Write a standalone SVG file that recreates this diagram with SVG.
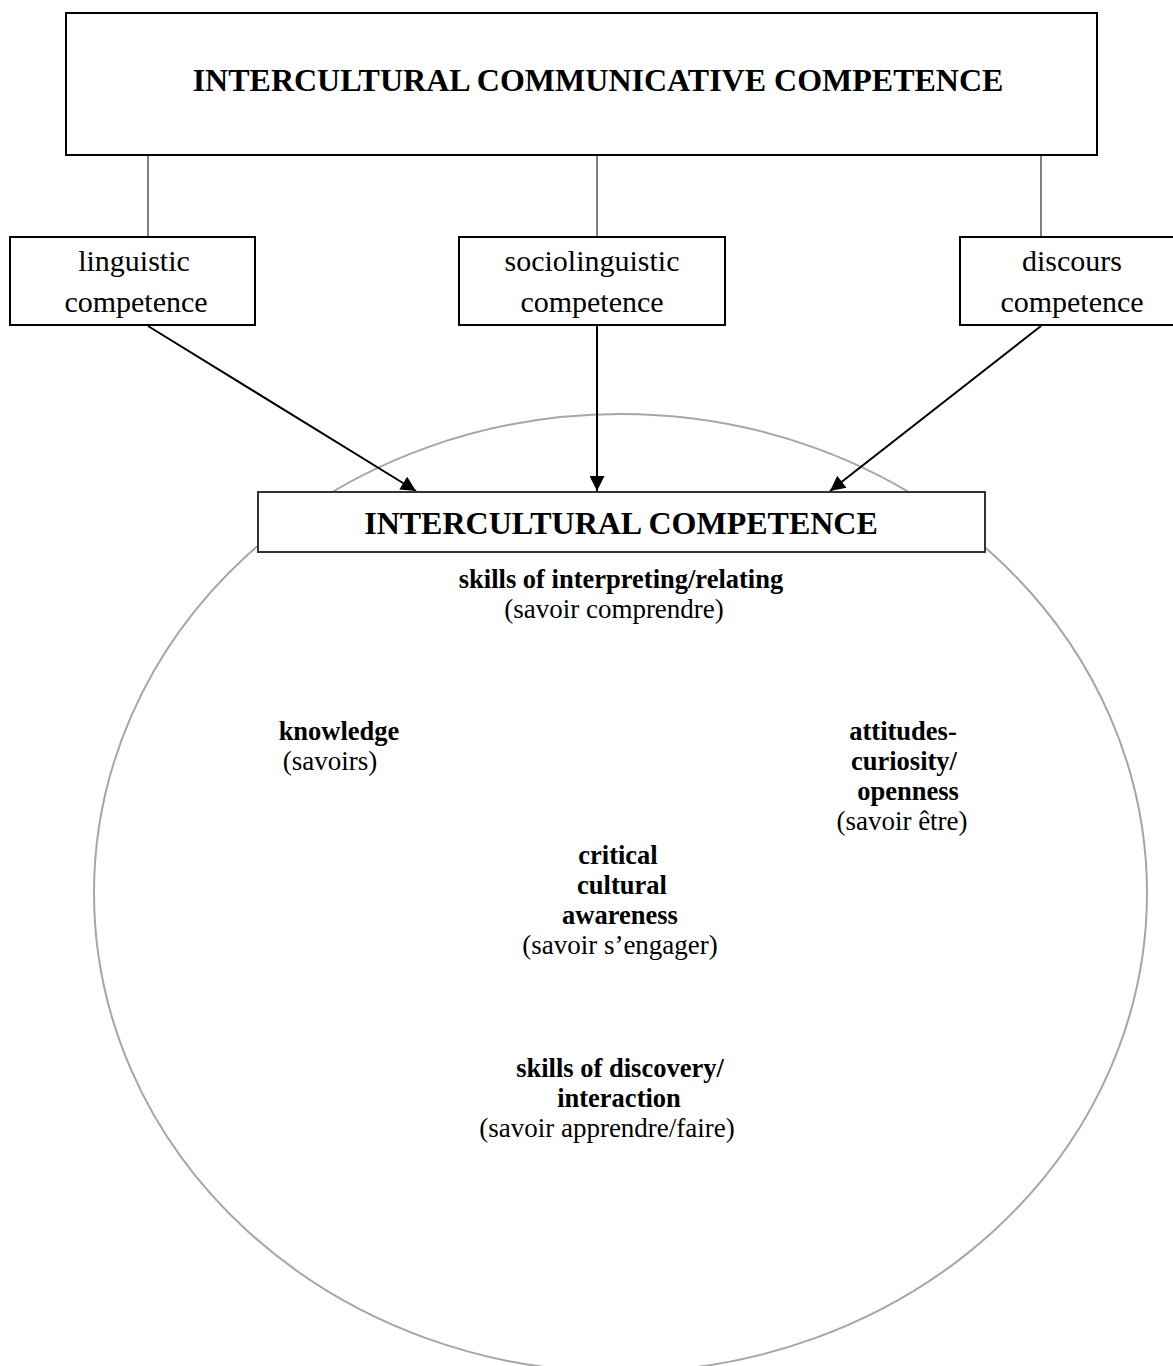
<svg xmlns="http://www.w3.org/2000/svg" width="1173" height="1366" viewBox="0 0 1173 1366">
<defs>
<style>
text{font-family:"Liberation Serif","Times New Roman",serif;fill:#000;text-anchor:middle}
.b{font-weight:bold}
.t1{font-size:32px;font-weight:bold}
.s{font-size:30px}
.c{font-size:26.5px}
.r{font-size:27px}
.box{fill:#fff;stroke:#000;stroke-width:2}
.thin{stroke:#000;stroke-width:1;fill:none}
.arr{stroke:#000;stroke-width:2;fill:none;marker-end:url(#ah)}
</style>
<marker id="ah" viewBox="0 0 10 10" refX="10" refY="5" markerWidth="8.5" markerHeight="7.5" markerUnits="strokeWidth" orient="auto">
<path d="M0,0 L10,5 L0,10 z" fill="#000"/>
</marker>
</defs>
<rect width="1173" height="1366" fill="#fff"/>
<g id="circle">
<ellipse cx="620.5" cy="893" rx="526.5" ry="479" fill="none" stroke="#a6a6a6" stroke-width="2"/>
</g>
<g id="connectors">
<line class="thin" x1="148" y1="155" x2="148" y2="237"/>
<line class="thin" x1="597" y1="155" x2="597" y2="237"/>
<line class="thin" x1="1041" y1="155" x2="1041" y2="237"/>
<line class="arr" x1="148" y1="326" x2="416" y2="491"/>
<line class="arr" x1="597" y1="326" x2="597" y2="491"/>
<line class="arr" x1="1041" y1="326" x2="830" y2="491"/>
</g>
<g id="icc">
<rect class="box" x="66" y="13" width="1031" height="142"/>
<text class="t1" x="598" y="91">INTERCULTURAL COMMUNICATIVE COMPETENCE</text>
</g>
<g id="linguistic">
<rect class="box" x="10" y="237" width="245" height="88"/>
<text class="s" x="134" y="271">linguistic</text>
<text class="s" x="136" y="312">competence</text>
</g>
<g id="sociolinguistic">
<rect class="box" x="459" y="237" width="266" height="88"/>
<text class="s" x="592" y="271">sociolinguistic</text>
<text class="s" x="592" y="312">competence</text>
</g>
<g id="discours">
<rect class="box" x="960" y="237" width="220" height="88"/>
<text class="s" x="1072" y="271">discours</text>
<text class="s" x="1072" y="312">competence</text>
</g>
<g id="ic">
<rect class="box" x="258" y="492" width="727" height="60" style="stroke:#333"/>
<text class="t1" x="621" y="534">INTERCULTURAL COMPETENCE</text>
</g>
<g id="interpreting">
<text class="c b" x="621" y="588">skills of interpreting/relating</text>
<text class="r" x="614" y="618">(savoir comprendre)</text>
</g>
<g id="knowledge">
<text class="c b" x="339" y="740">knowledge</text>
<text class="r" x="330" y="770">(savoirs)</text>
</g>
<g id="attitudes">
<text class="c b" x="903" y="740">attitudes-</text>
<text class="c b" x="904" y="770">curiosity/</text>
<text class="c b" x="908" y="800">openness</text>
<text class="r" x="902" y="830">(savoir être)</text>
</g>
<g id="critical">
<text class="c b" x="618" y="864">critical</text>
<text class="c b" x="622" y="894">cultural</text>
<text class="c b" x="620" y="924">awareness</text>
<text class="r" x="620" y="954">(savoir s’engager)</text>
</g>
<g id="discovery">
<text class="c b" x="620" y="1077">skills of discovery/</text>
<text class="c b" x="619" y="1107">interaction</text>
<text class="r" x="607" y="1137">(savoir apprendre/faire)</text>
</g>
</svg>
